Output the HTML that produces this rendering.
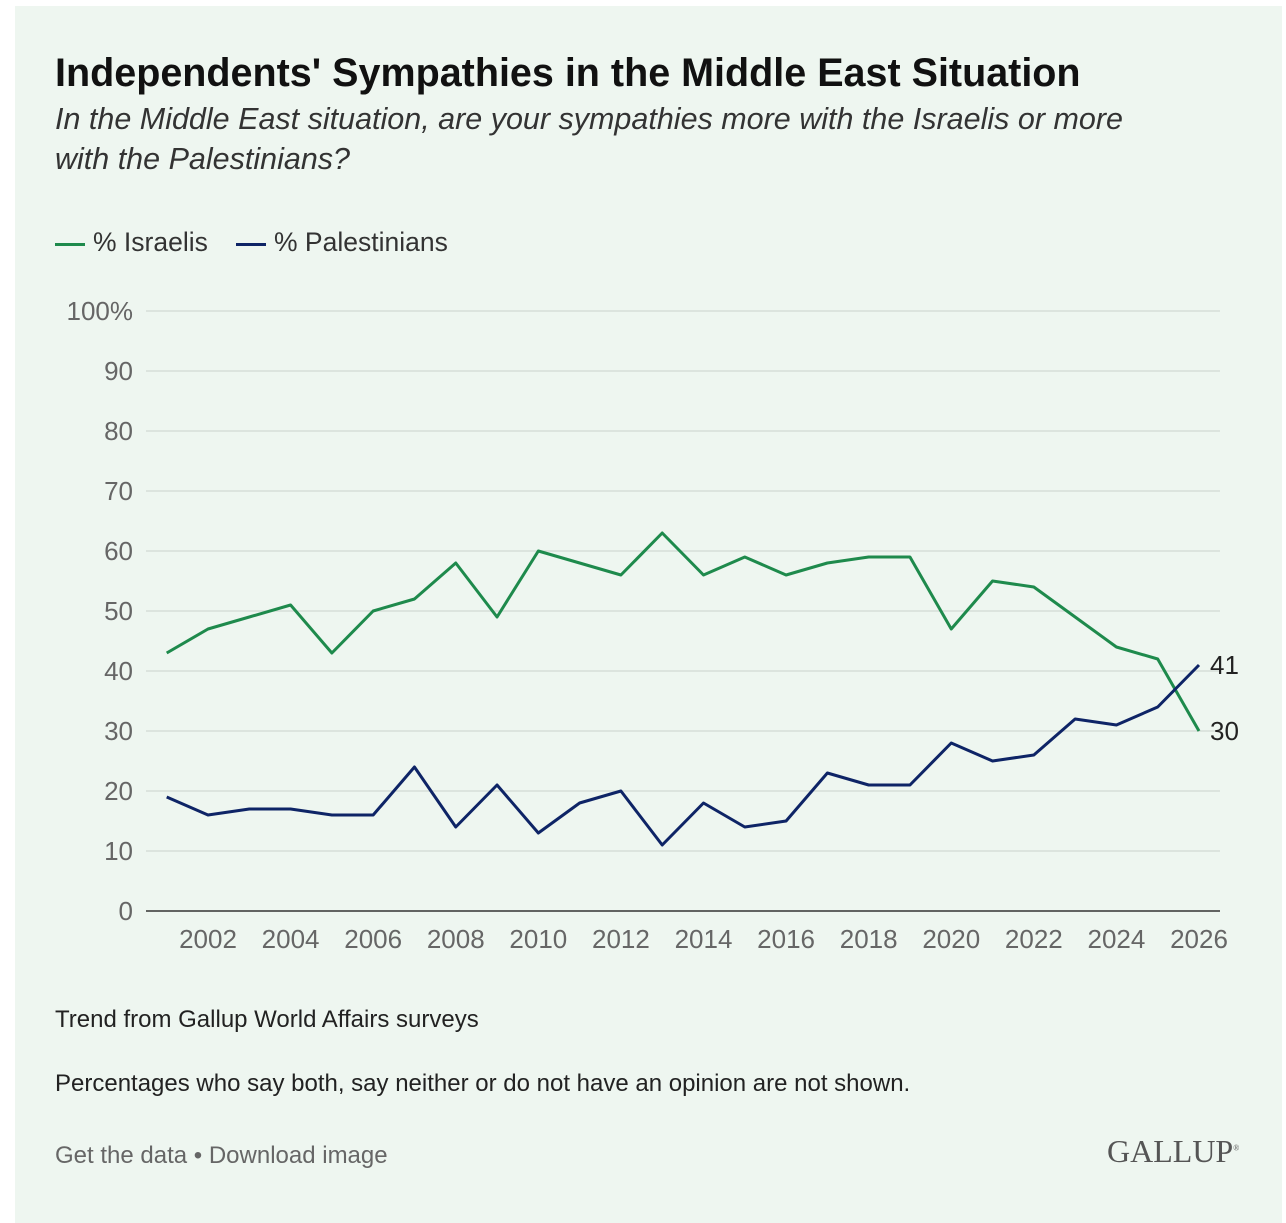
<!DOCTYPE html>
<html><head><meta charset="utf-8"><style>
body{margin:0;width:1286px;height:1223px;background:#fff;position:relative;overflow:hidden;font-family:"Liberation Sans",sans-serif}
#panel{position:absolute;left:15px;top:6px;width:1267px;height:1217px;background:#eef6f0}
.t{position:absolute;white-space:nowrap}
</style></head><body>
<div id="panel"></div>
<div class="t" style="left:55px;top:51px;font-size:39.5px;font-weight:bold;color:#111">Independents' Sympathies in the Middle East Situation</div>
<div class="t" style="left:55px;top:99px;font-size:30.5px;font-style:italic;color:#333;line-height:40px;white-space:normal;width:1100px">In the Middle East situation, are your sympathies more with the Israelis or more with the Palestinians?</div>
<div class="t" style="left:55px;top:227px;font-size:26.5px;color:#333"><span style="display:inline-block;width:30px;height:3px;background:#1e8a4c;vertical-align:middle;margin-right:8px"></span>% Israelis</div>
<div class="t" style="left:236px;top:227px;font-size:26.5px;color:#333"><span style="display:inline-block;width:30px;height:3px;background:#0e2466;vertical-align:middle;margin-right:8px"></span>% Palestinians</div>
<svg id="chart" width="1286" height="1000" style="position:absolute;left:0;top:0"></svg>
<div class="t" style="left:55px;top:1006px;font-size:24px;color:#222">Trend from Gallup World Affairs surveys</div>
<div class="t" style="left:55px;top:1070px;font-size:24px;color:#222">Percentages who say both, say neither or do not have an opinion are not shown.</div>
<div class="t" style="left:55px;top:1142px;font-size:24px;color:#666">Get the data • Download image</div>
<div class="t" style="left:1107px;top:1133px;font-size:32px;font-family:'Liberation Serif',serif;color:#555">GALLUP<sup style="font-size:8px">®</sup></div>
<script>
const years=[2001,2002,2003,2004,2005,2006,2007,2008,2009,2010,2011,2012,2013,2014,2015,2016,2017,2018,2019,2020,2021,2022,2023,2024,2025,2026];
const israelis=[43,47,49,51,43,50,52,58,49,60,58,56,63,56,59,56,58,59,59,47,55,54,49,44,42,30];
const palestinians=[19,16,17,17,16,16,24,14,21,13,18,20,11,18,14,15,23,21,21,28,25,26,32,31,34,41];
const yTicks=[0,10,20,30,40,50,60,70,80,90,100];
const xTicks=[2002,2004,2006,2008,2010,2012,2014,2016,2018,2020,2022,2024,2026];
const svg=document.getElementById('chart');const NS='http://www.w3.org/2000/svg';
const x=v=>208+(v-2002)*(1199-208)/24;
const y=v=>911-v*6;
function el(t,a){const e=document.createElementNS(NS,t);for(const k in a)e.setAttribute(k,a[k]);svg.appendChild(e);return e;}
yTicks.forEach(v=>{
 const g=el('line',{x1:146,x2:1220,y1:y(v),y2:y(v),stroke:v?'#d5ddd8':'#333','stroke-width':1.5});
 
 
 const t=el('text',{x:133,y:y(v)+9,'text-anchor':'end','font-size':26,fill:'#666','font-family':'Liberation Sans, sans-serif'});
 t.textContent=v===100?'100%':v;
 
 
});
xTicks.forEach(v=>{
 const t=el('text',{x:x(v),y:948,'text-anchor':'middle','font-size':26,fill:'#666','font-family':'Liberation Sans, sans-serif'});
 t.textContent=v;
 
 
});
function line(d,c,n){
 const p=el('polyline',{points:d.map((v,i)=>x(years[i])+','+y(v)).join(' '),fill:'none',stroke:c,'stroke-width':3,'stroke-linejoin':'round'});
 
 
 const l=el('text',{x:x(years[years.length-1])+11,y:y(d[d.length-1])+9,'font-size':26,fill:'#222','font-family':'Liberation Sans, sans-serif'});
 l.textContent=d[d.length-1];
 
 
}
line(israelis,'#1e8a4c','israelis-line');
line(palestinians,'#0e2466','palestinians-line');
</script>
</body></html>
